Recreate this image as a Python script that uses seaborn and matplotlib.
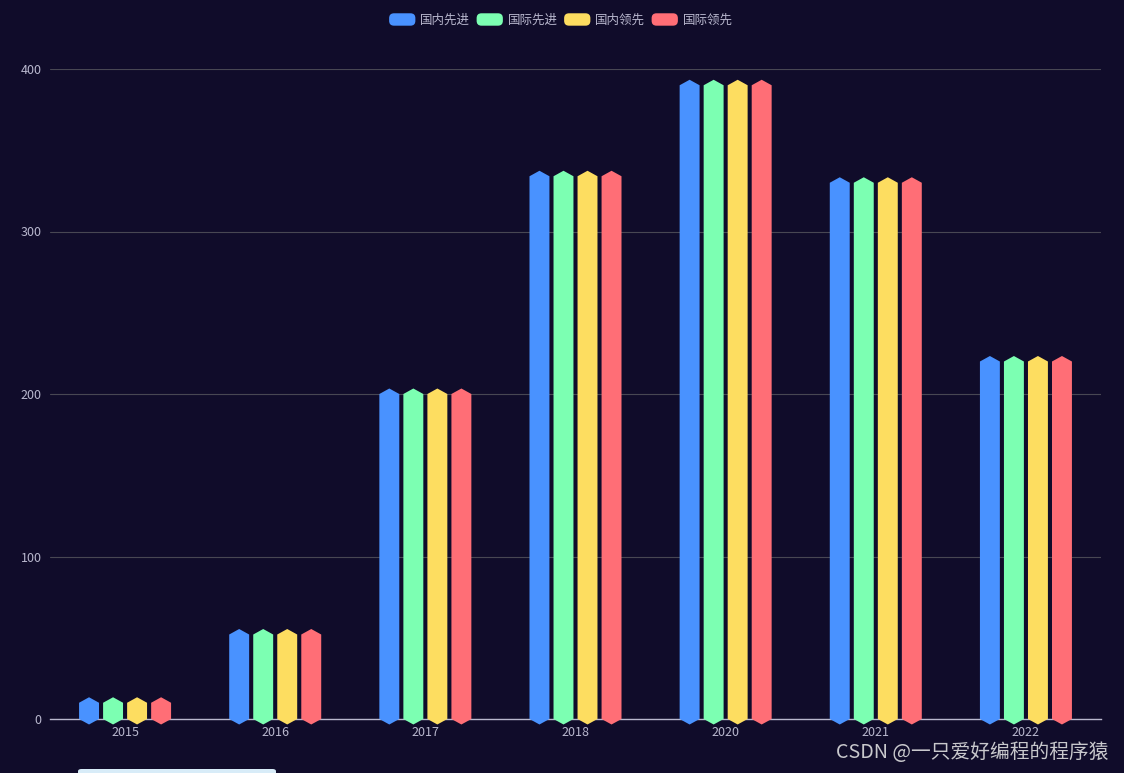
import matplotlib
matplotlib.use("Agg")
import matplotlib.pyplot as plt
import seaborn as sns
import pandas as pd
from matplotlib.patches import Polygon, FancyBboxPatch, Patch
from matplotlib.legend_handler import HandlerPatch

# ---- data ----
years = ["2015", "2016", "2017", "2018", "2020", "2021", "2022"]
series = ["国内先进", "国际先进", "国内领先", "国际领先"]
domestic_adv = [10, 52, 200, 334, 390, 330, 220]
intl_adv = [10, 52, 200, 334, 390, 330, 220]
domestic_lead = [10, 52, 200, 334, 390, 330, 220]
intl_lead = [10, 52, 200, 334, 390, 330, 220]
colors = ["#4992ff", "#7cffb2", "#fddd60", "#ff6e76"]
y_ticks = [0, 100, 200, 300, 400]
watermark = "CSDN @一只爱好编程的程序猿"

values = [domestic_adv, intl_adv, domestic_lead, intl_lead]
rows = []
for s, vals in zip(series, values):
    for y, v in zip(years, vals):
        rows.append({"year": y, "series": s, "value": v})
df = pd.DataFrame(rows)

BG = "#100c2a"
LABEL = "#b9b8ce"
GRID = "#484753"

sns.set_theme(style="dark")
plt.rcParams["font.family"] = ["Noto Sans CJK SC", "DejaVu Sans"]

fig = plt.figure(figsize=(11.24, 7.73), dpi=100, facecolor=BG)
ax = fig.add_axes([50 / 1124, 1 - 719 / 773, (1101 - 50) / 1124, (719 - 69) / 773])
ax.set_facecolor(BG)

sns.barplot(data=df, x="year", y="value", hue="series", order=years,
            hue_order=series, palette=colors, width=0.64, gap=0.17,
            legend=False, ax=ax, saturation=1)

ax.set_xlim(-0.5, len(years) - 0.5)
ax.set_ylim(0, 400)
ax.set_yticks(y_ticks)
ax.set_xlabel("")
ax.set_ylabel("")

for sp in ["top", "right", "left"]:
    ax.spines[sp].set_visible(False)
ax.spines["bottom"].set_color(LABEL)
ax.spines["bottom"].set_linewidth(1.0)
ax.spines["bottom"].set_zorder(2)

ax.grid(axis="y", color=GRID, linewidth=0.8)
ax.grid(axis="x", visible=False)
ax.set_axisbelow(True)
ax.tick_params(axis="x", colors=LABEL, labelsize=9, length=0, pad=5)
ax.tick_params(axis="y", colors=LABEL, labelsize=9, length=0, pad=6)

# convert bar rectangles into hexagonal pictorial bars
fig.canvas.draw()
px_per_unit = ax.get_window_extent().height / 400.0
tip = 5.5 / px_per_unit
bars = list(ax.patches)
for b in bars:
    x0 = b.get_x()
    w = b.get_width()
    h = b.get_height()
    fc = b.get_facecolor()
    xc = x0 + w / 2
    x1 = x0 + w
    poly = Polygon([(x0, 0), (xc, -tip), (x1, 0), (x1, h), (xc, h + tip), (x0, h)],
                   closed=True, facecolor=fc, edgecolor="none", clip_on=False, zorder=3)
    b.remove()
    ax.add_patch(poly)


class RoundHandler(HandlerPatch):
    def create_artists(self, legend, orig_handle, xdescent, ydescent, width, height, fontsize, trans):
        p = FancyBboxPatch((-xdescent, -ydescent), width, height,
                           boxstyle="round,pad=0,rounding_size=3.5",
                           facecolor=orig_handle.get_facecolor(), edgecolor="none",
                           transform=trans)
        return [p]


handles = [Patch(facecolor=c) for c in colors]
leg = fig.legend(handles, series, loc="center", bbox_to_anchor=(561 / 1124, 1 - 20 / 773),
                 ncol=4, frameon=False, fontsize=9, handlelength=2.1, handleheight=1.15,
                 handletextpad=0.4, columnspacing=0.5,
                 handler_map={Patch: RoundHandler()})
for t in leg.get_texts():
    t.set_color(LABEL)

fig.text(1108 / 1124, 1 - 752 / 773, watermark, ha="right", va="center",
         fontsize=14.2, color="#c8c8cc")

# small light panel edge at the bottom-left
fig.patches.append(FancyBboxPatch((78 / 1124, -4 / 773), 198 / 1124, 8 / 773,
                                  boxstyle="round,pad=0,rounding_size=0.003",
                                  transform=fig.transFigure, facecolor="#d8ecf8",
                                  edgecolor="none"))

fig.savefig("out.png", dpi=100, facecolor=BG)
